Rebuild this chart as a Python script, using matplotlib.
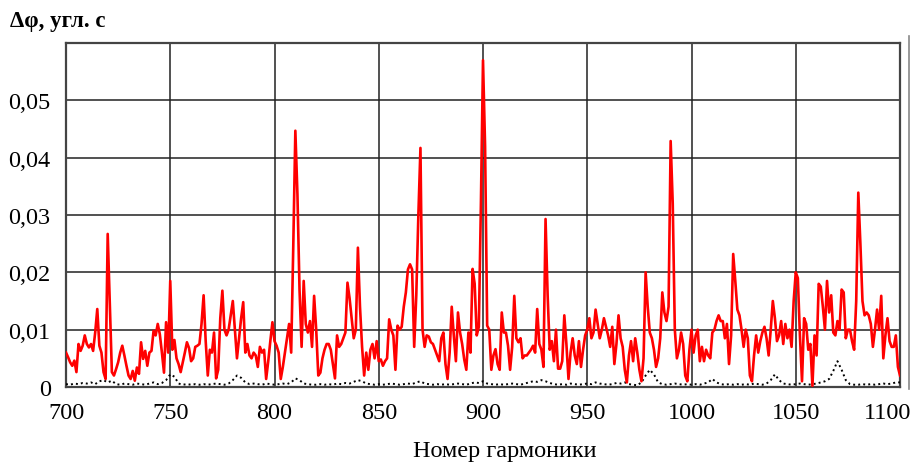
import numpy as np
import matplotlib
matplotlib.use("Agg")
import matplotlib.pyplot as plt
from matplotlib.lines import Line2D
from matplotlib.transforms import ScaledTranslation

# Harmonic numbers for the red series (step 1)
harm_red = list(range(700, 1101))
red_vals = [
    .0060, .0052, .0043, .0037, .0046, .0026, .0075, .0063, .0072, .0090,
    .0075, .0069, .0075, .0063, .0095, .0136, .0072, .0060, .0026, .0014,
    .0267, .0147, .0026, .0020, .0031, .0043, .0060, .0072, .0055, .0037,
    .0020, .0014, .0028, .0011, .0034, .0023, .0078, .0049, .0063, .0037,
    .0060, .0063, .0098, .0090, .0110, .0092, .0060, .0025, .0113, .0060,
    .0185, .0065, .0082, .0050, .0040, .0026, .0043, .0060, .0078, .0068,
    .0045, .0050, .0070, .0072, .0075, .0110, .0160, .0080, .0020, .0065,
    .0060, .0095, .0015, .0030, .0120, .0168, .0100, .0090, .0100, .0125,
    .0150, .0100, .0050, .0085, .0120, .0148, .0060, .0075, .0055, .0050,
    .0060, .0055, .0035, .0070, .0060, .0065, .0014, .0045, .0080, .0113,
    .0080, .0072, .0060, .0014, .0035, .0060, .0085, .0110, .0060, .0245,
    .0447, .0336, .0170, .0070, .0185, .0110, .0095, .0115, .0070, .0159,
    .0100, .0020, .0025, .0050, .0065, .0075, .0075, .0065, .0040, .0015,
    .0090, .0070, .0075, .0085, .0095, .0182, .0155, .0120, .0085, .0100,
    .0243, .0140, .0070, .0020, .0060, .0030, .0065, .0075, .0050, .0080,
    .0045, .0048, .0037, .0045, .0050, .0118, .0100, .0090, .0030, .0107,
    .0100, .0105, .0140, .0165, .0205, .0214, .0205, .0070, .0160, .0300,
    .0417, .0100, .0070, .0090, .0088, .0078, .0075, .0065, .0055, .0045,
    .0085, .0095, .0040, .0014, .0060, .0140, .0090, .0045, .0130, .0095,
    .0075, .0048, .0030, .0095, .0060, .0206, .0180, .0090, .0105, .0320,
    .0570, .0420, .0107, .0100, .0030, .0055, .0066, .0040, .0030, .0130,
    .0095, .0095, .0072, .0030, .0070, .0159, .0085, .0078, .0085, .0050,
    .0055, .0055, .0060, .0065, .0072, .0060, .0136, .0075, .0065, .0035,
    .0293, .0160, .0065, .0080, .0045, .0100, .0032, .0032, .0045, .0125,
    .0075, .0014, .0060, .0085, .0055, .0040, .0080, .0035, .0065, .0090,
    .0100, .0120, .0085, .0095, .0135, .0110, .0085, .0100, .0120, .0105,
    .0090, .0070, .0105, .0040, .0075, .0125, .0085, .0070, .0030, .0008,
    .0055, .0080, .0045, .0085, .0060, .0030, .0010, .0050, .0200, .0140,
    .0095, .0085, .0065, .0035, .0050, .0085, .0165, .0130, .0115, .0140,
    .0429, .0320, .0100, .0050, .0065, .0095, .0075, .0020, .0010, .0065,
    .0100, .0060, .0090, .0100, .0045, .0070, .0045, .0065, .0055, .0050,
    .0095, .0100, .0115, .0125, .0115, .0115, .0085, .0110, .0040, .0090,
    .0232, .0185, .0135, .0125, .0100, .0070, .0100, .0085, .0020, .0010,
    .0055, .0090, .0060, .0080, .0095, .0105, .0085, .0055, .0100, .0150,
    .0120, .0080, .0090, .0115, .0075, .0110, .0085, .0100, .0070, .0150,
    .0200, .0190, .0090, .0010, .0120, .0110, .0065, .0075, .0002, .0090,
    .0055, .0180, .0175, .0140, .0100, .0185, .0130, .0160, .0095, .0090,
    .0115, .0100, .0170, .0165, .0085, .0100, .0100, .0080, .0065, .0150,
    .0339, .0250, .0150, .0125, .0130, .0125, .0110, .0070, .0100, .0135,
    .0100, .0159, .0050, .0090, .0120, .0080, .0070, .0070, .0090, .0035,
    .0020,
]

# Harmonic numbers for the black dotted series (step 2)
harm_black = list(range(700, 1101, 2))
black_vals = [
    .0005, .0004, .0006, .0005, .0007, .0006, .0008, .0005, .0010, .0012,
    .0008, .0011, .0005, .0004, .0006, .0005, .0004, .0006, .0005, .0004,
    .0006, .0008, .0005, .0007, .0012, .0022, .0018, .0006, .0004, .0005,
    .0004, .0005, .0004, .0005, .0004, .0005, .0006, .0005, .0004, .0006,
    .0012, .0020, .0016, .0008, .0005, .0006, .0005, .0004, .0006, .0005,
    .0004, .0005, .0006, .0005, .0008, .0015, .0012, .0006, .0005, .0004,
    .0004, .0005, .0004, .0005, .0004, .0006, .0005, .0007, .0006, .0009,
    .0012, .0010, .0006, .0005, .0004, .0005, .0004, .0005, .0006, .0005,
    .0004, .0005, .0006, .0005, .0008, .0010, .0006, .0005, .0004, .0005,
    .0004, .0005, .0004, .0005, .0006, .0005, .0004, .0006, .0008, .0007,
    .0010, .0006, .0005, .0004, .0005, .0004, .0005, .0006, .0005, .0004,
    .0006, .0008, .0010, .0009, .0012, .0010, .0007, .0005, .0004, .0005,
    .0004, .0006, .0005, .0004, .0005, .0006, .0005, .0008, .0006, .0005,
    .0004, .0005, .0007, .0006, .0008, .0005, .0004, .0003, .0008, .0020,
    .0030, .0022, .0008, .0005, .0004, .0005, .0006, .0005, .0004, .0005,
    .0004, .0005, .0004, .0006, .0008, .0014, .0008, .0005, .0004, .0005,
    .0004, .0005, .0004, .0005, .0004, .0006, .0005, .0004, .0006, .0012,
    .0022, .0012, .0006, .0005, .0004, .0005, .0006, .0005, .0004, .0005,
    .0006, .0008, .0010, .0014, .0028, .0045, .0030, .0012, .0005, .0004,
    .0004, .0005, .0004, .0005, .0004, .0005, .0006, .0005, .0006, .0008,
    .0008,
]

x_ticks = [700, 750, 800, 850, 900, 950, 1000, 1050, 1100]
y_ticks = [0, 0.01, 0.02, 0.03, 0.04, 0.05]
y_tick_labels = ["0", "0,01", "0,02", "0,03", "0,04", "0,05"]
y_label = "\u0394\u03c6, угл. с"
x_label = "Номер гармоники"

plt.rcParams['font.family'] = ['Liberation Serif', 'DejaVu Serif']

fig = plt.figure(figsize=(9.14, 4.64), dpi=100)
ax = fig.add_axes([66/914, 1 - 388/464, (900-66)/914, (388-44)/464])

ax.plot(harm_black, black_vals, color='black', lw=1.4, ls=(0, (1, 1.6)), zorder=3)
ax.plot(harm_red, red_vals, color='#ff0000', lw=1.9, zorder=4)

ax.set_xlim(700, 1100)
ax.set_ylim(0, 0.06)
ax.set_xticks(x_ticks)
ax.set_xticklabels([str(v) for v in x_ticks])
ax.set_yticks(y_ticks + [0.06])
ax.set_yticklabels(y_tick_labels + [""])
ax.grid(True, color='#222222', lw=1.1)
ax.set_axisbelow(True)
ax.tick_params(length=0, labelsize=17.5, colors='black')
ax.tick_params(axis='y', pad=11)
ax.tick_params(axis='x', pad=11)
for s in ax.spines.values():
    s.set_color('#444444')
    s.set_linewidth(1.6)

# shift last x tick label slightly left as in reference
lbls = ax.get_xticklabels()
lbls[-1].set_transform(lbls[-1].get_transform() + ScaledTranslation(-0.12, 0, fig.dpi_scale_trans))

fig.text(10/914, 1 - 22/464, y_label, fontsize=16.5, fontweight='bold', ha='left', va='center')
fig.text(505/914, 1 - 452/464, x_label, fontsize=17.5, ha='center', va='center')

fig.add_artist(Line2D([909/914, 909/914], [1 - 37/464, 1 - 390/464], color='#888888', lw=1.2))

fig.savefig('out.png', dpi=100)
